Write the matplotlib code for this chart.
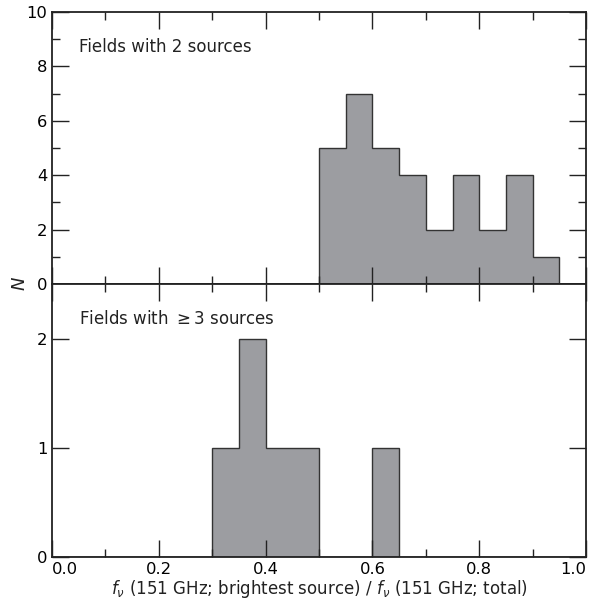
import numpy as np
import matplotlib
matplotlib.use("Agg")
import matplotlib.pyplot as plt
from matplotlib.ticker import MultipleLocator

plt.rcParams['font.family'] = ['DejaVu Sans']
plt.rcParams['mathtext.fontset'] = 'dejavusans'

# Data (bin edges and counts)
bin_edges = [0.0, 0.05, 0.10, 0.15, 0.20, 0.25, 0.30, 0.35, 0.40, 0.45, 0.50,
             0.55, 0.60, 0.65, 0.70, 0.75, 0.80, 0.85, 0.90, 0.95, 1.00]
counts_two = [0, 0, 0, 0, 0, 0, 0, 0, 0, 0, 5, 7, 5, 4, 2, 4, 2, 4, 1, 0]
counts_three = [0, 0, 0, 0, 0, 0, 1, 2, 1, 1, 0, 0, 1, 0, 0, 0, 0, 0, 0, 0]

label_two = "Fields with 2 sources"
label_three = r"Fields with $\geq$3 sources"
xlabel = r"$f_\nu$ (151 GHz; brightest source) / $f_\nu$ (151 GHz; total)"
ylabel = r"$N$"
xticks = [0.0, 0.2, 0.4, 0.6, 0.8, 1.0]
xticklabels = ["0.0", "0.2", "0.4", "0.6", "0.8", "1.0"]

fill = "#9c9da1"
edge = "#333333"

fig = plt.figure(figsize=(6.03, 6.01), dpi=100)
W, H = 603, 601
left, right = 52 / W, 586 / W
top_y0, top_y1 = 12, 284
bot_y1 = 557
ax1 = fig.add_axes([left, 1 - top_y1 / H, right - left, (top_y1 - top_y0) / H])
ax2 = fig.add_axes([left, 1 - bot_y1 / H, right - left, (bot_y1 - top_y1) / H])

centers = (np.array(bin_edges[:-1]) + np.array(bin_edges[1:])) / 2
for ax, counts in ((ax1, counts_two), (ax2, counts_three)):
    ax.hist(centers, bins=bin_edges, weights=counts, histtype='stepfilled',
            facecolor=fill, edgecolor=edge, linewidth=1.0)
    ax.set_xlim(0, 1)
    ax.xaxis.set_major_locator(MultipleLocator(0.2))
    ax.xaxis.set_minor_locator(MultipleLocator(0.1))
    ax.tick_params(which='both', direction='in', top=True, right=True,
                   labelsize=11.8, width=1.0, color='#222222')
    ax.tick_params(which='major', length=12)
    ax.tick_params(which='minor', length=6)
    for s in ax.spines.values():
        s.set_linewidth(1.3)
        s.set_color('#222222')

ax1.set_ylim(0, 10)
ax1.yaxis.set_major_locator(MultipleLocator(2))
ax1.yaxis.set_minor_locator(MultipleLocator(1))
ax1.tick_params(axis='x', labelbottom=False)
ax1.text(0.051, 0.87, label_two, transform=ax1.transAxes, fontsize=12,
         color='#222222', ha='left', va='center')

ax2.set_ylim(0, 2.5)
ax2.set_yticks([0, 1, 2])
ax2.yaxis.set_minor_locator(plt.NullLocator())
ax2.set_xticks(xticks)
labs = ax2.set_xticklabels(xticklabels)
labs[0].set_ha('left')
labs[-1].set_ha('right')
ax2.text(0.051, 0.872, label_three, transform=ax2.transAxes, fontsize=12,
         color='#222222', ha='left', va='center')
ax2.set_xlabel(xlabel, fontsize=12, color='#222222', labelpad=1)

fig.text(20 / W, 1 - 284 / H, ylabel, fontsize=13, rotation=90,
         ha='center', va='center', color='#222222')

fig.savefig("out.png", dpi=100)
